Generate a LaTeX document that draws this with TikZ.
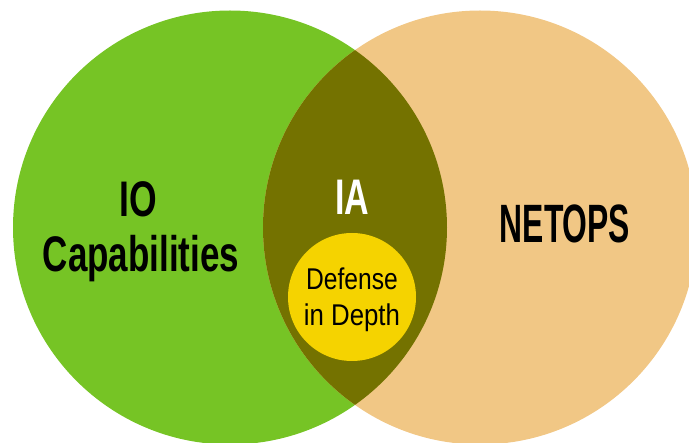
\documentclass[tikz,border=0pt]{standalone}
\usepackage{fontspec}
\setmainfont{Liberation Sans}
\definecolor{iogreen}{HTML}{76C425}
\definecolor{netorange}{HTML}{F1C785}
\definecolor{iaolive}{HTML}{747200}
\definecolor{didyellow}{HTML}{F5D300}
\tikzset{
  setcircle/.style={circle, inner sep=0pt, minimum size=434pt, fill=#1},
  bigword/.style={anchor=base, inner sep=0pt, font=\fontsize{50}{55}\selectfont\bfseries},
  smallword/.style={anchor=base, inner sep=0pt, font=\fontsize{30}{33}\selectfont}
}
\begin{document}
\begin{tikzpicture}[x=1pt, y=-1pt]
  \useasboundingbox (0,0) rectangle (689,443);
  \clip (0,0) rectangle (689,443);
  % the two overlapping sets
  \node[setcircle=iogreen] (io) at (230,227.5) {};
  \node[setcircle=netorange] (net) at (480,227.5) {};
  % their intersection
  \begin{scope}
    \clip (230,227.5) circle (217);
    \fill[iaolive] (480,227.5) circle (217);
  \end{scope}
  % inner circle
  \node[circle, inner sep=0pt, minimum size=128pt, fill=didyellow] (did) at (352,297) {};
  % labels
  \node[bigword] (ioa) at (138.5,217) {\scalebox{0.71}[1]{IO}};
  \node[bigword] (iob) at (141,272) {\scalebox{0.70}[1]{Capabilities}};
  \node[bigword, text=white] (ia) at (352,215) {\scalebox{0.68}[1]{IA}};
  \node[bigword, font=\fontsize{54}{58}\selectfont\bfseries] (netops) at (565,243) {\scalebox{0.59}[1]{NETOPS}};
  \node[smallword] (dida) at (352,290) {\scalebox{0.82}[1]{Defense}};
  \node[smallword] (didb) at (352,326) {\scalebox{0.86}[1]{in Depth}};
\end{tikzpicture}
\end{document}
